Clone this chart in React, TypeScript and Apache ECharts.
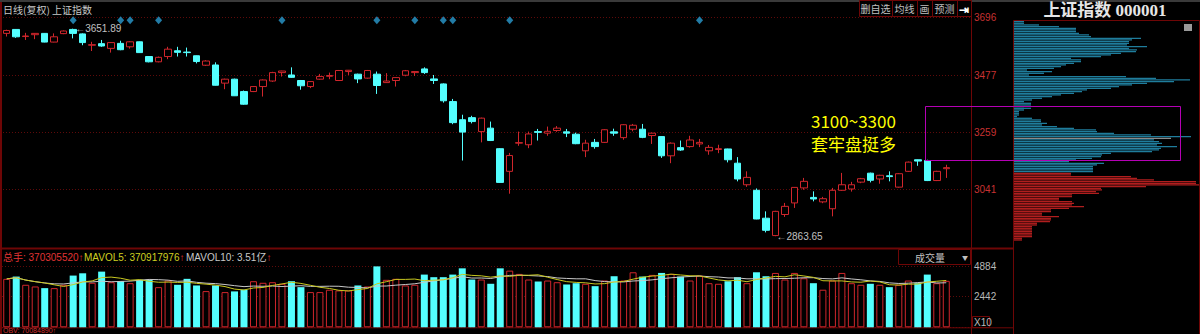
import React, { useEffect, useRef } from "react";
import * as echarts from "echarts";

// daily candles: [open, close, low, high]
const ohlc: number[][] = [
  [3634, 3645, 3622, 3648], [3649, 3621, 3617, 3650], [3622, 3624, 3609, 3636], [3629, 3634, 3612, 3635],
  [3634, 3601, 3600, 3635], [3601, 3621, 3600, 3634], [3633, 3643, 3631, 3645], [3649, 3634, 3615, 3651.89],
  [3632, 3599, 3589, 3634], [3589, 3591, 3567, 3602], [3595, 3586, 3583, 3609], [3577, 3599, 3561, 3600],
  [3596, 3572, 3570, 3606], [3583, 3602, 3576, 3604], [3602, 3561, 3560, 3603], [3546, 3526, 3524, 3548],
  [3526, 3543, 3524, 3546], [3546, 3574, 3536, 3583], [3568, 3562, 3546, 3583], [3563, 3561, 3546, 3580],
  [3549, 3527, 3520, 3550], [3513, 3529, 3510, 3532], [3514, 3437, 3436, 3524], [3445, 3460, 3422, 3462],
  [3460, 3397, 3396, 3462], [3413, 3365, 3363, 3417], [3413, 3432, 3411, 3434], [3432, 3457, 3394, 3459],
  [3453, 3485, 3450, 3488], [3485, 3491, 3470, 3492], [3476, 3467, 3465, 3505], [3455, 3435, 3420, 3457],
  [3432, 3451, 3426, 3453], [3460, 3470, 3458, 3480], [3471, 3474, 3460, 3485], [3455, 3493, 3453, 3495],
  [3489, 3494, 3476, 3495], [3479, 3461, 3445, 3481], [3464, 3493, 3462, 3495], [3479, 3436, 3404, 3489],
  [3447, 3453, 3446, 3483], [3455, 3466, 3432, 3467], [3475, 3492, 3471, 3495], [3485, 3489, 3472, 3490],
  [3499, 3485, 3480, 3505], [3461, 3455, 3442, 3476], [3442, 3378, 3371, 3444], [3375, 3295, 3289, 3385],
  [3306, 3259, 3151, 3325], [3314, 3299, 3292, 3321], [3261, 3312, 3220, 3314], [3274, 3227, 3225, 3299],
  [3196, 3068, 3066, 3198], [3110, 3170, 3025, 3180], [3217, 3219, 3207, 3261], [3211, 3252, 3198, 3261],
  [3261, 3258, 3227, 3271], [3255, 3262, 3245, 3280], [3265, 3274, 3260, 3282], [3260, 3255, 3240, 3271],
  [3251, 3215, 3213, 3257], [3188, 3217, 3164, 3230], [3220, 3204, 3196, 3233], [3220, 3268, 3218, 3270],
  [3260, 3255, 3245, 3272], [3238, 3287, 3230, 3289], [3270, 3285, 3262, 3290], [3270, 3239, 3236, 3290],
  [3246, 3255, 3214, 3257], [3242, 3169, 3161, 3243], [3169, 3217, 3141, 3220], [3200, 3191, 3188, 3227],
  [3204, 3229, 3200, 3245], [3214, 3220, 3202, 3233], [3188, 3201, 3173, 3210], [3193, 3196, 3179, 3211],
  [3195, 3154, 3144, 3196], [3141, 3081, 3072, 3164], [3059, 3087, 3051, 3110], [3038, 2929, 2928, 3045],
  [2932, 2886, 2878, 2958], [2866, 2958, 2863.65, 2960], [2946, 2977, 2937, 2990], [2990, 3049, 2971, 3050],
  [3047, 3072, 3040, 3085], [3011, 3005, 2996, 3034], [2994, 3006, 2989, 3013], [2968, 3038, 2939, 3047],
  [3038, 3059, 3036, 3104], [3043, 3059, 3033, 3070], [3069, 3082, 3065, 3085], [3103, 3076, 3068, 3105],
  [3081, 3095, 3063, 3097], [3093, 3090, 3072, 3110], [3050, 3101, 3048, 3103], [3110, 3145, 3108, 3147],
  [3154, 3149, 3131, 3155], [3151, 3075, 3073, 3154], [3075, 3110, 3073, 3112], [3120, 3124, 3085, 3135],
];

// volume in 10^5 hands
const volumes: number[] = [
  3861, 4042, 3388, 3254, 3120, 3120, 3388, 4121, 4303, 3546,
  4436, 3593, 3672, 3514, 3782, 3782, 3199, 3727, 3388, 3861,
  3333, 2884, 3333, 2805, 2860, 2994, 3672, 3546, 3593, 3467,
  3672, 3199, 2805, 2805, 2994, 2939, 2939, 3333, 3254, 4854,
  3782, 3861, 3333, 3388, 4200, 3993, 3993, 4200, 4698, 3806,
  3806, 3467, 4698, 4515, 4253, 3806, 3648, 3727, 3593, 3412,
  3514, 3467, 3278, 3727, 4069, 3727, 4384, 4042, 4174, 4332,
  4253, 4042, 3727, 4121, 3514, 3467, 3672, 3993, 3514, 4384,
  4069, 4332, 3806, 4332, 3909, 3514, 2994, 3727, 4332, 3514,
  3388, 3467, 3388, 3199, 3388, 3727, 3514, 4200, 3514, 3703,
];

const signalDays = [7, 12, 13, 16, 29, 39, 43, 46, 47, 53, 73];
const priceTicks = [3696, 3477, 3259, 3041];
const highMark = { day: 7, text: "3651.89" };
const lowMark = { day: 81, text: "2863.65" };

// chip-distribution profile, top (high price) to bottom
const profile: number[] = [
  10, 10, 25, 45, 62, 62, 62, 65, 75, 77,
  127, 118, 115, 115, 113, 133, 115, 123, 122, 107,
  97, 87, 57, 67, 67, 60, 52, 47, 40, 13,
  38, 30, 15, 112, 142, 176, 160, 133, 118, 105,
  97, 73, 68, 60, 47, 38, 28, 18, 10, 17,
  17, 10, 17, 10, 5, 5, 5, 3, 18, 27,
  27, 33, 28, 43, 60, 82, 83, 100, 137, 177,
  157, 140, 145, 148, 143, 163, 147, 145, 138, 97,
  88, 87, 78, 62, 55, 90, 83, 79, 79, 79,
  79, 57, 57, 117, 123, 140, 182, 182, 186, 132,
  87, 88, 82, 85, 58, 58, 45, 45, 58, 60,
  58, 70, 55, 37, 37, 28, 28, 45, 37, 37,
  36, 23, 23, 18, 18, 18, 18, 18, 18, 18,
  8, 8,
];
const profileGrayRow = 70;
const profileRedFrom = 91;

const statusTotal = "370305520";
const statusMa5 = "370917976";
const statusMa10 = "3.51亿";
const statusObv = "70084890";

const PAD = 2;
const categories = [...ohlc.map((_, i) => `D${i + 1}`), ...Array.from({ length: PAD }, (_, i) => `P${i + 1}`)];

function movingAvg(arr: number[], n: number) {
  return arr.map((_, i) => {
    const s = arr.slice(Math.max(0, i - n + 1), i + 1);
    return s.reduce((a, b) => a + b, 0) / s.length;
  });
}

const RED = "#d0262c";
const CYAN = "#54ffff";
const FRAME = "#6e0606";
const GRIDC = "#5e0a0a";
const FONT = '"Liberation Sans", "Noto Sans CJK SC", sans-serif';
const CJK = '"Noto Sans CJK SC", "Liberation Sans", sans-serif';

function txt(x: number, y: number, text: string, fill: string, size: number, extra: any = {}) {
  return {
    type: "text",
    x,
    y,
    z: 20,
    style: {
      text,
      fill,
      font: `${extra.weight || "normal"} ${size}px ${extra.family || CJK}`,
      textAlign: extra.align || "left",
      align: extra.align || "left",
      textVerticalAlign: "middle",
      verticalAlign: "middle",
      ...(extra.rich ? { rich: extra.rich } : {}),
    },
  };
}
function ln(x1: number, y1: number, x2: number, y2: number, stroke: string, w = 1, dash?: number[]) {
  return {
    type: "line",
    z: 1,
    shape: { x1, y1, x2, y2 },
    style: { stroke, lineWidth: w, ...(dash ? { lineDash: dash } : {}) },
    silent: true,
  };
}
function box(x: number, y: number, w: number, h: number, stroke: string, fill = "none", lw = 1) {
  return { type: "rect", z: 15, shape: { x, y, width: w, height: h }, style: { stroke, fill, lineWidth: lw }, silent: true };
}

export default function App() {
  const ref = useRef<HTMLDivElement>(null);
  useEffect(() => {
    document.body.style.margin = "0";
    document.body.style.background = "#000";
    const chart = echarts.init(ref.current!, null, { renderer: "svg" });
    const ma5 = movingAvg(volumes, 5);
    const ma10 = movingAvg(volumes, 10);
    const option: any = {
      animation: false,
      backgroundColor: "#000",
      grid: [
        { left: 2, top: 17, width: 968, height: 230 },
        { left: 2, top: 266, width: 968, height: 61.3 },
        { left: 1014, top: 20.8, width: 186, height: 220 },
      ],
      xAxis: [
        { type: "category", gridIndex: 0, data: categories, boundaryGap: true, show: false },
        { type: "category", gridIndex: 1, data: categories, boundaryGap: true, show: false },
        { type: "value", gridIndex: 2, min: 0, max: 186, show: false },
      ],
      yAxis: [
        { type: "value", gridIndex: 0, min: 2822.6, max: 3696.2, show: false, splitLine: { show: false } },
        {
          type: "value",
          gridIndex: 1,
          position: "right",
          min: 0,
          max: 4884,
          interval: 2442,
          axisLine: { show: false },
          axisTick: { show: false },
          axisLabel: {
            color: "#b8b8b8",
            fontSize: 10,
            fontFamily: FONT,
            margin: 4,
            showMinLabel: false,
            formatter: (v: number) => String(v),
          },
          splitLine: { lineStyle: { color: GRIDC, type: [1, 2] } },
        },
        {
          type: "category",
          gridIndex: 2,
          inverse: true,
          data: profile.map((_, i) => `R${i}`),
          show: false,
        },
      ],
      series: [
        {
          type: "scatter",
          xAxisIndex: 0,
          yAxisIndex: 0,
          symbol: "diamond",
          symbolSize: [7, 8],
          itemStyle: { color: "#2a9bd0" },
          data: signalDays.map((d) => [categories[d], 3684]),
          z: 3,
        },
        {
          type: "candlestick",
          xAxisIndex: 0,
          yAxisIndex: 0,
          barWidth: 7,
          data: ohlc,
          itemStyle: {
            color: "#000",
            color0: CYAN,
            borderColor: RED,
            borderColor0: CYAN,
            borderWidth: 1,
          },
          z: 5,
        },
        {
          type: "bar",
          xAxisIndex: 1,
          yAxisIndex: 1,
          barWidth: 7,
          data: volumes.map((v, i) => {
            const up = ohlc[i][1] >= ohlc[i][0];
            return {
              value: v,
              itemStyle: up
                ? { color: "#000", borderColor: RED, borderWidth: 1 }
                : { color: CYAN, borderColor: CYAN, borderWidth: 0 },
            };
          }),
          z: 3,
        },
        {
          type: "line",
          xAxisIndex: 1,
          yAxisIndex: 1,
          data: ma10,
          symbol: "none",
          lineStyle: { color: "#c8c8c8", width: 1 },
          z: 6,
        },
        {
          type: "line",
          xAxisIndex: 1,
          yAxisIndex: 1,
          data: ma5,
          symbol: "none",
          lineStyle: { color: "#c8c820", width: 1 },
          z: 7,
        },
        {
          type: "bar",
          xAxisIndex: 2,
          yAxisIndex: 2,
          barWidth: 1.3,
          data: profile.map((v, i) => ({
            value: v,
            itemStyle: { color: i === profileGrayRow ? "#8a8a8a" : i >= profileRedFrom ? "#b01e1e" : "#1f7d9c" },
          })),
        },
      ],
    };
    chart.setOption(option);

    const g: any[] = [];
    // frames
    g.push({ type: "rect", z: 14, shape: { x: 0, y: 0, width: 1200, height: 2 }, style: { fill: "#3a3a3a" } });
    g.push(ln(1, 2, 1, 334, FRAME, 2));
    g.push(ln(971.5, 0, 971.5, 334, FRAME, 1));
    g.push(ln(0, 248.5, 1013, 248.5, FRAME, 2));
    g.push(ln(0, 327.8, 1013, 327.8, FRAME, 1));
    g.push(box(1013.5, 20.5, 186, 320, FRAME));
    // price grid + labels
    priceTicks.forEach((v) => {
      const y = Math.round(chart.convertToPixel({ yAxisIndex: 0 }, v) as number) + 0.5;
      g.push(ln(3, y, 970, y, GRIDC, 1, [1, 2]));
      g.push(txt(974, y, String(v), "#c83232", 10, { family: FONT }));
    });
    // header
    g.push(txt(3, 9, "日线(复权) 上证指数", "#c8c8c8", 10));
    const buttons: [number, number, string][] = [
      [859, 892, "删自选"],
      [892, 917, "均线"],
      [917, 932, "画"],
      [932, 957, "预测"],
      [957, 971, "⇥"],
    ];
    buttons.forEach(([a, b, t]) => {
      g.push(box(a + 0.5, 0.5, b - a, 16, FRAME, "#000"));
      g.push(txt((a + b) / 2, 8.5, t, t === "⇥" ? "#ffffff" : "#c0c0c0", t === "⇥" ? 12 : 10, { align: "center", weight: t === "⇥" ? "bold" : "normal" }));
    });
    // right panel title
    g.push(txt(1105, 10, "上证指数 000001", "#e6e6e6", 17, { align: "center", weight: "bold", family: '"Liberation Serif", "Noto Sans CJK SC", serif' }));
    g.push({ type: "rect", z: 16, shape: { x: 1184, y: 24, width: 8, height: 7 }, style: { fill: "#9a9a9a" } });
    // annotation
    g.push(box(925.5, 106.5, 255, 54, "#b400b4"));
    g.push(txt(811, 120.5, "3100~3300", "#ffff00", 17));
    g.push(txt(811, 143.5, "套牢盘挺多", "#ffff00", 17));
    // high / low marks
    const hp = chart.convertToPixel({ xAxisIndex: 0, yAxisIndex: 0 }, [categories[highMark.day], ohlc[highMark.day][3]]) as number[];
    g.push(txt(hp[0] + 2, hp[1], "←" + highMark.text, "#c0c0c0", 10, { family: FONT }));
    const lp = chart.convertToPixel({ xAxisIndex: 0, yAxisIndex: 0 }, [categories[lowMark.day], ohlc[lowMark.day][2]]) as number[];
    g.push(txt(lp[0] + 1, lp[1], "←" + lowMark.text, "#c0c0c0", 10, { family: FONT }));
    // volume status row
    g.push(txt(3, 257, `总手: ${statusTotal}↑`, "#e03434", 10, { family: FONT }));
    g.push(
      txt(84, 257, `{a|MAVOL5: ${statusMa5}}{b|↑}`, "#d0d020", 10, {
        family: FONT,
        rich: { a: { fill: "#d0d020", font: `10px ${FONT}` }, b: { fill: "#e03434", font: `10px ${FONT}` } },
      })
    );
    g.push(
      txt(186, 257, `{a|MAVOL10: ${statusMa10}}{b|↑}`, "#c8c8c8", 10, {
        family: FONT,
        rich: { a: { fill: "#c8c8c8", font: `10px ${FONT}` }, b: { fill: "#e03434", font: `10px ${FONT}` } },
      })
    );
    g.push(box(898.5, 249.5, 72, 15, FRAME, "#000"));
    g.push(txt(930, 257, "成交量", "#c0c0c0", 10, { align: "center" }));
    g.push(txt(965, 257, "▼", "#c0c0c0", 6, { align: "center" }));
    g.push(box(972.5, 316.5, 17, 11, FRAME, "#000"));
    g.push(txt(974, 322.5, "X10", "#b8b8b8", 10, { family: FONT }));
    g.push(txt(3, 330.5, `OBV: ${statusObv}↑`, "#d03030", 7, { family: FONT }));

    chart.setOption({ graphic: g });
    return () => chart.dispose();
  }, []);
  return <div ref={ref} style={{ position: "fixed", left: 0, top: 0, width: 1200, height: 334, background: "#000" }} />;
}
